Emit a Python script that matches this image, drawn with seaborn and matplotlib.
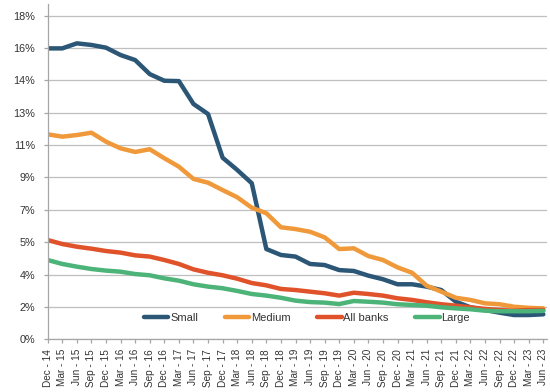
import numpy as np
import pandas as pd
import matplotlib
matplotlib.use("Agg")
import matplotlib.pyplot as plt
from matplotlib.lines import Line2D
import seaborn as sns

quarters = ["Dec - 14", "Mar - 15", "Jun - 15", "Sep - 15", "Dec - 15", "Mar - 16", "Jun - 16",
            "Sep - 16", "Dec - 16", "Mar - 17", "Jun - 17", "Sep - 17", "Dec - 17", "Mar - 18",
            "Jun - 18", "Sep - 18", "Dec - 18", "Mar - 19", "Jun - 19", "Sep - 19", "Dec - 19",
            "Mar - 20", "Jun - 20", "Sep - 20", "Dec - 20", "Mar - 21", "Jun - 21", "Sep - 21",
            "Dec - 21", "Mar - 22", "Jun - 22", "Sep - 22", "Dec - 22", "Mar - 23", "Jun - 23"]

small = [16.18, 16.18, 16.46, 16.37, 16.22, 15.81, 15.53, 14.75, 14.38, 14.36, 13.09, 12.53,
         10.10, 9.42, 8.68, 5.02, 4.69, 4.60, 4.19, 4.13, 3.85, 3.80, 3.54, 3.34, 3.06, 3.06,
         2.93, 2.74, 2.09, 1.78, 1.63, 1.48, 1.35, 1.35, 1.39]
medium = [11.40, 11.27, 11.36, 11.49, 10.99, 10.62, 10.42, 10.57, 10.07, 9.60, 8.92, 8.71,
          8.30, 7.90, 7.32, 7.01, 6.23, 6.13, 5.98, 5.67, 5.02, 5.06, 4.63, 4.41, 4.00, 3.70,
          2.98, 2.65, 2.31, 2.19, 2.00, 1.95, 1.81, 1.75, 1.72]
all_banks = [5.52, 5.30, 5.15, 5.04, 4.91, 4.82, 4.67, 4.60, 4.41, 4.19, 3.89, 3.70,
             3.56, 3.37, 3.13, 3.00, 2.80, 2.74, 2.65, 2.56, 2.43, 2.59, 2.52, 2.43, 2.28, 2.19,
             2.06, 1.95, 1.87, 1.78, 1.69, 1.63, 1.59, 1.63, 1.63]
large = [4.41, 4.19, 4.04, 3.91, 3.82, 3.76, 3.63, 3.56, 3.39, 3.26, 3.06, 2.93,
         2.84, 2.69, 2.52, 2.43, 2.31, 2.15, 2.07, 2.04, 1.96, 2.13, 2.09, 2.04, 1.95, 1.91,
         1.87, 1.78, 1.72, 1.67, 1.59, 1.56, 1.56, 1.56, 1.58]

series_names = ["Small", "Medium", "All banks", "Large"]
colors = ["#2B5676", "#F0993A", "#E0522A", "#4CB478"]

frames = []
for name, vals in zip(series_names, [small, medium, all_banks, large]):
    frames.append(pd.DataFrame({"idx": np.arange(len(quarters)), "value": vals, "series": name}))
df = pd.concat(frames, ignore_index=True)

sns.set_theme(style="white")
plt.rcParams["font.family"] = ["Liberation Sans", "DejaVu Sans"]

W, H = 550, 392
fig = plt.figure(figsize=(W / 100, H / 100), dpi=100)
x0, x1, y0, y1 = 47.7, 546.5, 339.3, 4.0
ax = fig.add_axes([x0 / W, (H - y0) / H, (x1 - x0) / W, (y0 - y1) / H])

sns.lineplot(data=df, x="idx", y="value", hue="series", hue_order=series_names,
             palette=colors, linewidth=3.2, ax=ax, legend=False, sort=False)
for ln in ax.lines:
    ln.set_solid_joinstyle("round")

ax.set_xlim(0, (x1 - x0) / ((543.3 - 47.7) / 34))
ax.set_ylim(0, (y0 - y1) / 17.98)

yt = np.arange(0, 18.01, 1.8)
ax.set_yticks(yt)
ax.set_yticklabels([f"{v:.0f}%" for v in yt])
ax.set_xticks(np.arange(len(quarters)))
ax.set_xticklabels(quarters, rotation=90)

ax.grid(axis="y", color="#BFBFBF", linewidth=0.9)
ax.grid(axis="x", visible=False)
ax.set_axisbelow(True)
for s in ["top", "right"]:
    ax.spines[s].set_visible(False)
for s in ["left", "bottom"]:
    ax.spines[s].set_color("#A6A6A6")
    ax.spines[s].set_linewidth(0.9)
ax.tick_params(axis="y", length=3, width=0.9, color="#A6A6A6", pad=6, labelsize=7.8,
               labelcolor="#333333", left=True)
ax.tick_params(axis="x", length=3, width=0.9, color="#A6A6A6", pad=4, labelsize=7.2,
               labelcolor="#333333", bottom=True, direction="out")
ax.set_xlabel("")
ax.set_ylabel("")

handles = [Line2D([0], [0], color=c, linewidth=3.2) for c in colors]
ax.legend(handles, series_names, loc="center", ncol=4, frameon=False,
          bbox_to_anchor=(307 / W, (H - 318.3) / H), bbox_transform=fig.transFigure,
          fontsize=8, handlelength=2.2, handletextpad=0.15, columnspacing=2.4,
          labelcolor="#333333")

fig.savefig("out.png", dpi=100)
